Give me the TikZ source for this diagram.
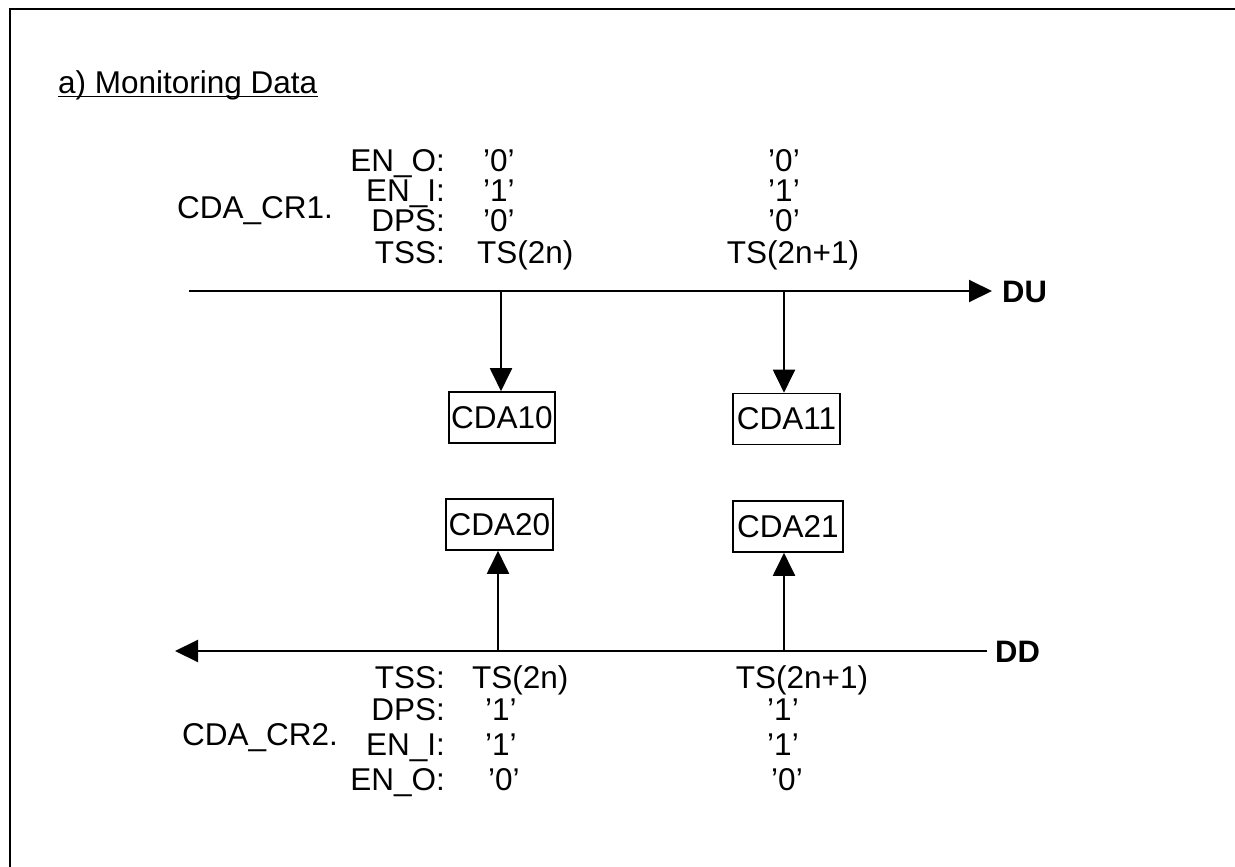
\documentclass[tikz,border=0pt]{standalone}
\usepackage{fontspec}
\setmainfont{Liberation Sans}
\usetikzlibrary{arrows.meta}
\begin{document}
\begin{tikzpicture}[x=1pt,y=-1pt,
  txt/.style={inner sep=0pt, font=\fontsize{31.5}{36}\selectfont},
  boldtxt/.style={inner sep=0pt, font=\fontsize{31}{36}\selectfont\bfseries},
  cdabox/.style={draw, line width=1.6pt, inner sep=0pt, minimum height=51pt, font=\fontsize{31.5}{36}\selectfont},
  axis/.style={line width=2pt},
  tip/.style={-{Triangle[length=23pt,width=22pt]}},
]
\useasboundingbox (0,0) rectangle (1235,867);
% frame (cut by the page)
\draw[line width=2.2pt] (10,867) -- (10,9) -- (1235,9);

% title
\node[txt, anchor=base west] (title) at (58,94) {a) Monitoring Data};
\draw[line width=1.5pt] ([yshift=-2.5pt]title.base west) -- ([yshift=-2.5pt]title.base east);

% ---------- upper (DU) ----------
\node[txt, anchor=base west] (cr1) at (177,218) {CDA\_CR1.};
\node[txt, anchor=base east] (u1) at (445,171) {EN\_O:};
\node[txt, anchor=base east] (u2) at (445,201) {EN\_I:};
\node[txt, anchor=base east] (u3) at (445,231) {DPS:};
\node[txt, anchor=base east] (u4) at (445,263) {TSS:};
\node[txt, anchor=base west] (ua1) at (483,171) {’0’};
\node[txt, anchor=base west] (ua2) at (483,201) {’1’};
\node[txt, anchor=base west] (ua3) at (483,231) {’0’};
\node[txt, anchor=base west] (ua4) at (477,263) {TS(2n)};
\node[txt, anchor=base] (ub1) at (784,171) {’0’};
\node[txt, anchor=base] (ub2) at (784,201) {’1’};
\node[txt, anchor=base] (ub3) at (784,231) {’0’};
\node[txt, anchor=base] (ub4) at (793,263) {TS(2n+1)};

\coordinate (duL) at (189,291);
\coordinate (duR) at (992,291);
\draw[axis, tip] (duL) -- (duR);
\node[boldtxt, anchor=base west] (du) at (1002,302) {DU};

\node[cdabox, minimum width=106pt] (c10) at (502,417.5) {CDA10};
\node[cdabox, minimum width=107pt] (c11) at (786.5,419) {CDA11};
\coordinate (t1) at (501,291);
\coordinate (t2) at (784,291);
\draw[axis, tip] (t1) -- (t1 |- c10.north);
\draw[axis, tip] (t2) -- (t2 |- c11.north);

% ---------- lower (DD) ----------
\node[cdabox, minimum width=107pt] (c20) at (499.5,524.5) {CDA20};
\node[cdabox, minimum width=110pt] (c21) at (788,526.5) {CDA21};

\coordinate (ddR) at (987,651);
\coordinate (ddL) at (175,651);
\draw[axis, tip] (ddR) -- (ddL);
\node[boldtxt, anchor=base west] (dd) at (995,662) {DD};
\coordinate (b1) at (498,651);
\coordinate (b2) at (784,651);
\draw[axis, tip] (b1) -- (b1 |- c20.south);
\draw[axis, tip] (b2) -- (b2 |- c21.south);

\node[txt, anchor=base west] (cr2) at (182,745) {CDA\_CR2.};
\node[txt, anchor=base east] (l1) at (445,688) {TSS:};
\node[txt, anchor=base east] (l2) at (445,720) {DPS:};
\node[txt, anchor=base east] (l3) at (445,755) {EN\_I:};
\node[txt, anchor=base east] (l4) at (445,790) {EN\_O:};
\node[txt, anchor=base west] (la1) at (472,688) {TS(2n)};
\node[txt, anchor=base west] (la2) at (485,720) {’1’};
\node[txt, anchor=base west] (la3) at (485,755) {’1’};
\node[txt, anchor=base west] (la4) at (488,790) {’0’};
\node[txt, anchor=base] (lb1) at (802,688) {TS(2n+1)};
\node[txt, anchor=base] (lb2) at (783,720) {’1’};
\node[txt, anchor=base] (lb3) at (783,755) {’1’};
\node[txt, anchor=base] (lb4) at (787,790) {’0’};
\end{tikzpicture}
\end{document}
